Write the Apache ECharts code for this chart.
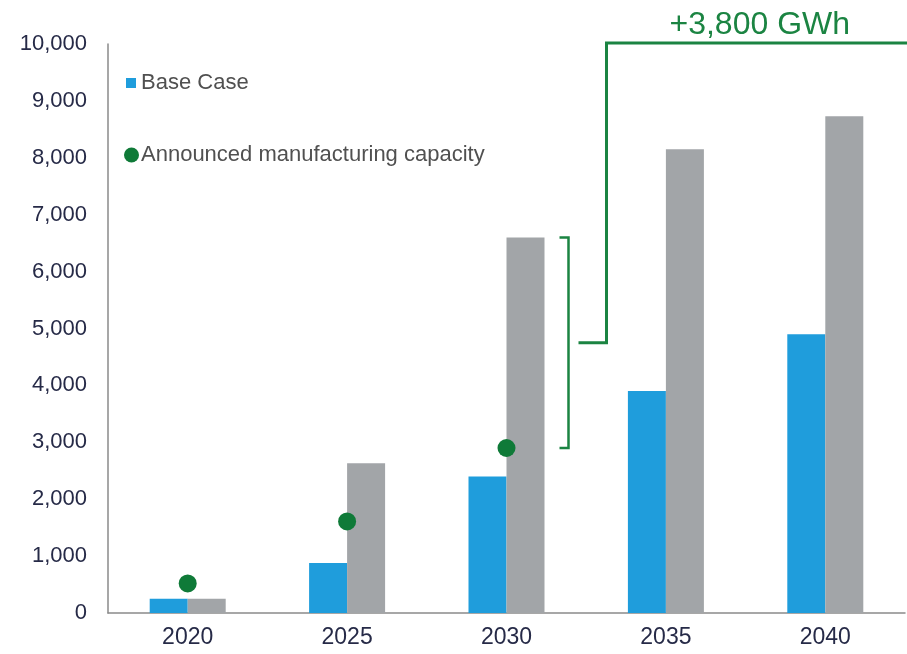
<!DOCTYPE html>
<html><head><meta charset="utf-8">
<script src="https://cdn.jsdelivr.net/npm/echarts@6/dist/echarts.min.js"></script>
<style>html,body{margin:0;padding:0;background:#fff}#c{width:907px;height:654px}</style>
</head><body><div id="c"></div>
<script>
const categories = ['2020', '2025', '2030', '2035', '2040'];
const baseCase = [250, 880, 2400, 3900, 4900];
const otherCase = [250, 2630, 6600, 8150, 8730];
const announced = [520, 1610, 2900, null, null];
const seriesNames = ['Base Case', 'Other case', 'Announced manufacturing capacity'];
const yMin = 0, yMax = 10000, yStep = 1000;
const annotationText = '+3,800 GWh';
const bracketCategory = '2030';

const GREEN = '#1b8442';
const FONT = 'Liberation Sans, Arial';
const chart = echarts.init(document.getElementById('c'), null, {renderer: 'canvas'});
const option = {
  animation: false,
  backgroundColor: '#fff',
  grid: {left: 108, right: 2, top: 44, bottom: 41, containLabel: false},
  legend: [
    {data: [{name: seriesNames[0], icon: 'rect'}], left: 121, top: 67, itemWidth: 10, itemHeight: 10, itemGap: 0,
     textStyle: {fontSize: 22, color: '#505050', fontFamily: FONT, padding: [0, 0, 0, 0]}},
    {data: [{name: seriesNames[2], icon: 'circle'}], left: 119, top: 139, itemWidth: 17, itemHeight: 15, itemGap: 0,
     textStyle: {fontSize: 22, color: '#505050', fontFamily: FONT, padding: [0, 0, 0, -4]}}
  ],
  xAxis: {
    type: 'category', data: categories,
    axisLine: {show: true, lineStyle: {color: '#8a8a8a', width: 1.5}},
    axisTick: {show: false},
    axisLabel: {fontSize: 23, color: '#262a47', margin: 13, fontFamily: FONT}
  },
  yAxis: {
    type: 'value', min: yMin, max: yMax, interval: yStep,
    axisLine: {show: true, lineStyle: {color: '#8a8a8a', width: 1.5}},
    axisTick: {show: false},
    splitLine: {show: false},
    axisLabel: {fontSize: 22, color: '#262a47', margin: 21, fontFamily: FONT,
      formatter: v => v.toLocaleString('en-US')}
  },
  series: [
    {name: seriesNames[0], type: 'bar', data: baseCase, barWidth: 38, barGap: '0%',
     itemStyle: {color: '#1f9ddc'}},
    {name: seriesNames[1], type: 'bar', data: otherCase, barWidth: 38, barGap: '0%',
     itemStyle: {color: '#a2a5a8'}},
    {name: seriesNames[2], type: 'scatter', data: announced, symbolSize: 18, z: 5,
     itemStyle: {color: '#0f7a38', opacity: 1}}
  ]
};
chart.setOption(option);

// Annotation derived from data positions
const xi = categories.indexOf(bracketCategory);
const pTop = chart.convertToPixel({gridIndex: 0}, [xi, otherCase[xi]]);
const pBot = chart.convertToPixel({gridIndex: 0}, [xi, announced[xi]]);
const pMax = chart.convertToPixel({gridIndex: 0}, [xi, yMax]);
const bx = pTop[0] + 62;
const midY = (pTop[1] + pBot[1]) / 2;
const cx = pTop[0] + 100;
const topY = pMax[1] - 1;
const W = chart.getWidth();
chart.setOption({
  graphic: [
    {type: 'polyline', shape: {points: [[bx - 9, pTop[1]], [bx, pTop[1]], [bx, pBot[1]], [bx - 9, pBot[1]]]},
     style: {stroke: GREEN, lineWidth: 2.5, fill: null}, z: 10},
    {type: 'polyline', shape: {points: [[bx + 10, midY], [cx, midY], [cx, topY], [W, topY]]},
     style: {stroke: GREEN, lineWidth: 3, fill: null}, z: 10},
    {type: 'text', x: (cx + W) / 2 + 3, y: topY - 2,
     style: {text: annotationText, fill: GREEN, font: '32px "Liberation Sans", Arial', align: 'center', verticalAlign: 'bottom'}, z: 10}
  ]
});
</script></body></html>
